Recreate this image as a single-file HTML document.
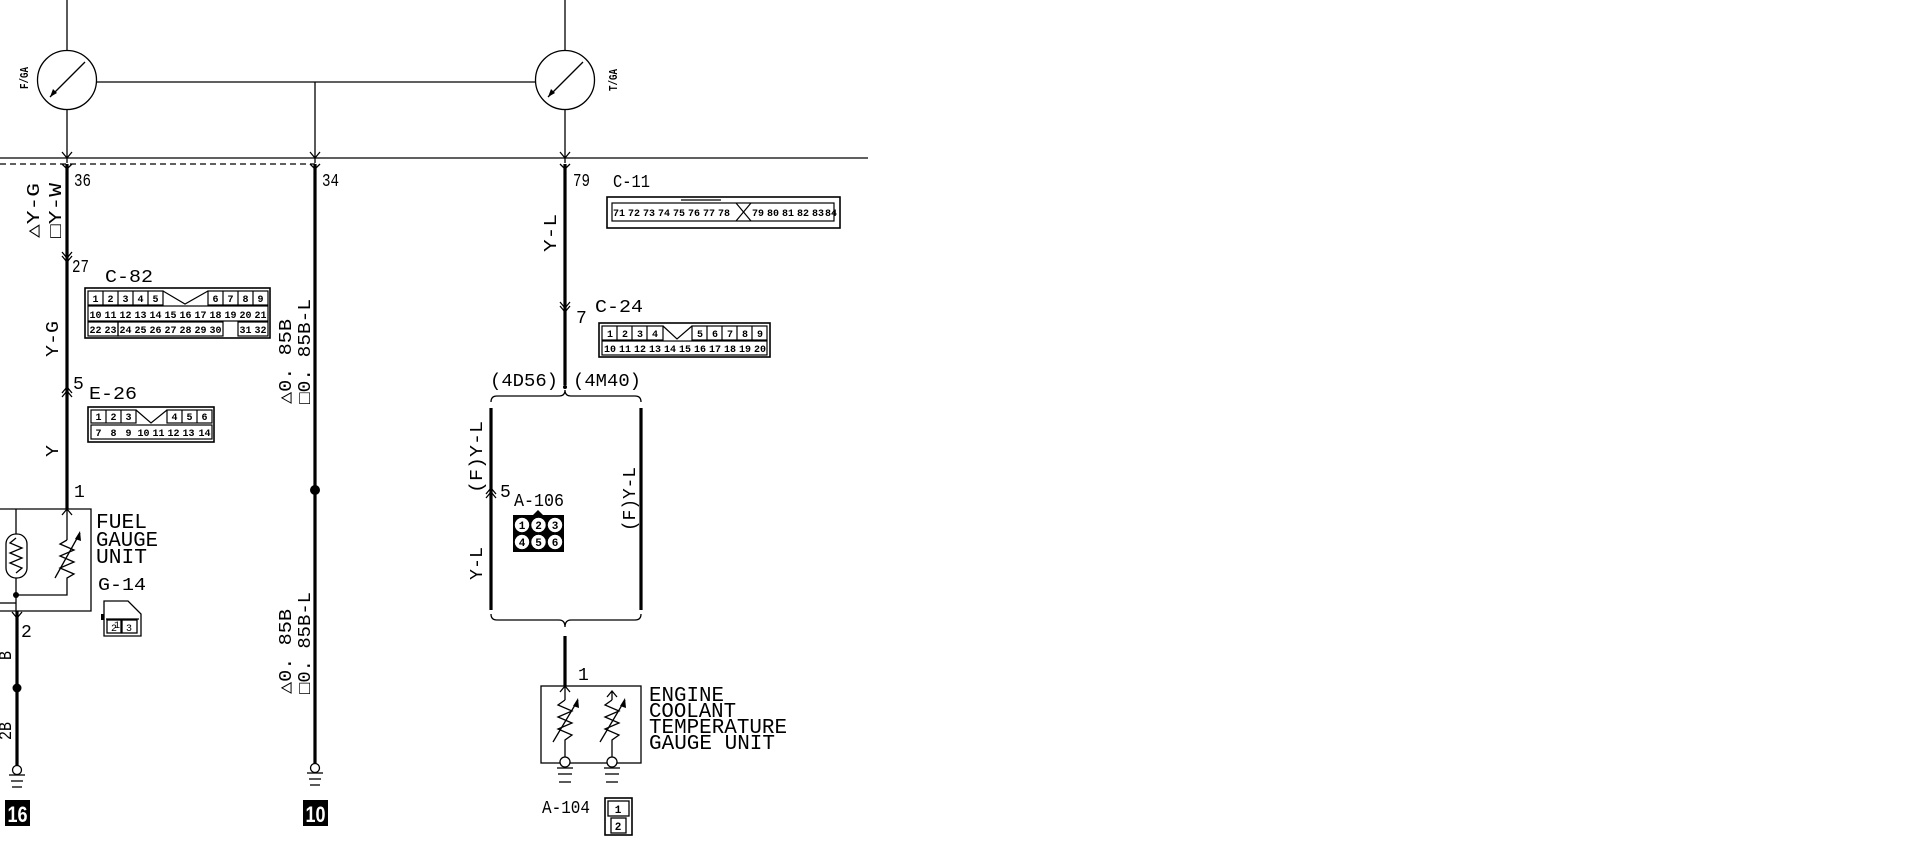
<!DOCTYPE html>
<html><head><meta charset="utf-8"><style>
html,body{margin:0;padding:0;background:#fff;}
svg{display:block;}
text{font-family:"Liberation Mono","DejaVu Sans Mono",monospace;fill:#000;}
.n{font-size:10px;text-anchor:middle;font-family:"Liberation Sans",sans-serif;font-weight:bold;}
.l{font-size:18px;}
.t{font-size:21px;}
</style></head><body>
<svg width="1919" height="868" viewBox="0 0 1919 868" xmlns="http://www.w3.org/2000/svg">
<g stroke="#000" fill="none" stroke-width="1.3">
<line x1="67" y1="0" x2="67" y2="50"/>
<line x1="565" y1="0" x2="565" y2="50"/>
<circle cx="67" cy="80" r="29.5"/>
<circle cx="565" cy="80" r="29.5"/>
<line x1="85" y1="62" x2="50" y2="97"/>
<line x1="583" y1="62" x2="548" y2="97"/>
<line x1="96" y1="82" x2="536" y2="82"/>
<line x1="67" y1="110" x2="67" y2="163"/>
<line x1="565" y1="110" x2="565" y2="163"/>
<line x1="315" y1="82" x2="315" y2="163"/>
<line x1="0" y1="158" x2="868" y2="158"/>
<line x1="0" y1="164" x2="315" y2="164" stroke-dasharray="6,4"/>
<polyline points="62,152 67,158 72,152"/>
<polyline points="310,152 315,158 320,152"/>
<polyline points="560,152 565,158 570,152"/>
<polyline points="62,164 67,169 72,164"/>
<polyline points="310,164 315,169 320,164"/>
<polyline points="560,164 565,169 570,164"/>
</g>
<polygon points="50,97 53,89 57,93" fill="#000"/>
<polygon points="548,97 551,89 555,93" fill="#000"/>
<g stroke="#000" fill="none" stroke-width="3.2">
<line x1="67" y1="164" x2="67" y2="509"/>
<line x1="315" y1="164" x2="315" y2="764"/>
<line x1="565" y1="164" x2="565" y2="385"/>
<line x1="491" y1="408" x2="491" y2="610"/>
<line x1="641" y1="408" x2="641" y2="610"/>
<line x1="565" y1="636" x2="565" y2="686"/>
<line x1="17" y1="611" x2="17" y2="766"/>
</g>
<g stroke="#000" fill="none" stroke-width="1.3">
<polyline points="62,252 67,258 72,252"/><polyline points="62,256 67,262 72,256"/>
<polyline points="62,393 67,387 72,393"/><polyline points="62,397 67,391 72,397"/>
<polyline points="560,302 565,308 570,302"/><polyline points="560,306 565,312 570,306"/>
<polyline points="486,494 491,488 496,494"/><polyline points="486,498 491,492 496,498"/>
<polyline points="62,515 67,509 72,515"/>
<polyline points="560,692 565,686 570,692"/>
<polyline points="12,612 17,618 22,612"/>
<path d="M491,402 Q491,396 497,396 L559,396 Q565,396 565,390 Q565,396 571,396 L635,396 Q641,396 641,402"/>
<path d="M491,614 Q491,620 497,620 L559,620 Q565,620 565,627 Q565,620 571,620 L635,620 Q641,620 641,614"/>
<polyline points="0,509 91,509 91,611 0,611"/>
<line x1="16" y1="509" x2="16" y2="534"/>
<line x1="16" y1="578" x2="16" y2="611"/>
<rect x="6" y="534" width="21" height="44" rx="10"/>
<polyline points="16,538 10,543 22,548 10,553 22,558 10,563 22,568 16,573"/>
<line x1="67" y1="509" x2="67" y2="540"/>
<polyline points="67,540 60,544 74,550 60,556 74,562 60,568 74,574 67,578 67,595 16,595"/>
<line x1="55" y1="578" x2="80" y2="533"/>
<line x1="0" y1="603" x2="16" y2="603"/>
<path d="M104,601 L128,601 L141,614 L141,636 L104,636 Z"/>
<line x1="106" y1="619" x2="139" y2="619"/><rect x="107" y="620" width="14" height="13"/><rect x="122" y="620" width="15" height="13"/>
<rect x="541" y="686" width="100" height="77"/>
<line x1="565" y1="686" x2="565" y2="700"/>
<polyline points="565,700 558,705 572,711 558,717 572,723 558,729 572,735 565,740 565,757"/>
<line x1="553" y1="742" x2="578" y2="700"/>
<line x1="612" y1="692" x2="612" y2="700"/><polyline points="607,697 612,691 617,697"/>
<polyline points="612,700 605,705 619,711 605,717 619,723 605,729 619,735 612,740 612,757"/>
<line x1="600" y1="742" x2="625" y2="700"/>
<circle cx="565" cy="762" r="5" fill="#fff"/>
<circle cx="612" cy="762" r="5" fill="#fff"/>
<line x1="557" y1="768" x2="573" y2="768"/><line x1="558" y1="774" x2="572" y2="774"/><line x1="559" y1="782" x2="571" y2="782"/>
<line x1="604" y1="768" x2="620" y2="768"/><line x1="605" y1="774" x2="619" y2="774"/><line x1="606" y1="782" x2="618" y2="782"/>
<circle cx="17" cy="770" r="4.5" fill="#fff"/>
<line x1="9" y1="775" x2="25" y2="775"/><line x1="11" y1="781" x2="23" y2="781"/><line x1="12" y1="787" x2="22" y2="787"/>
<circle cx="315" cy="768" r="4.5" fill="#fff"/>
<line x1="307" y1="773" x2="323" y2="773"/><line x1="309" y1="779" x2="321" y2="779"/><line x1="310" y1="785" x2="320" y2="785"/>
<rect x="605" y="798" width="27" height="37" stroke-width="1.6"/><rect x="608" y="801" width="21" height="15"/><rect x="611" y="818" width="15" height="15"/>
<rect x="85" y="288" width="185" height="50" stroke-width="1.6"/>
<rect x="88" y="407" width="126" height="35" stroke-width="1.6"/>
<rect x="607" y="197" width="233" height="31" stroke-width="1.6"/>
<rect x="599" y="323" width="171" height="34" stroke-width="1.6"/>
</g>
<polygon points="80,531 75,539 81,541" fill="#000"/>
<polygon points="578,698 573,706 579,708" fill="#000"/>
<polygon points="625,698 620,706 626,708" fill="#000"/>
<rect x="101" y="614" width="3" height="6" fill="#000"/>
<circle cx="17" cy="688" r="4.5"/>
<circle cx="315" cy="490" r="5"/>
<circle cx="16" cy="595" r="3"/>
<circle cx="565" cy="387" r="2"/>
<rect x="5" y="800" width="25" height="26" fill="#000"/><text x="17.5" y="822" style="font-family:'Liberation Sans';font-weight:bold;font-size:22px;fill:#fff;text-anchor:middle" textLength="20" lengthAdjust="spacingAndGlyphs">16</text>
<rect x="303" y="800" width="25" height="26" fill="#000"/><text x="315.5" y="822" style="font-family:'Liberation Sans';font-weight:bold;font-size:22px;fill:#fff;text-anchor:middle" textLength="20" lengthAdjust="spacingAndGlyphs">10</text>
<text x="28" y="89" transform="rotate(-90 28 89)" style="font-size:12px;font-weight:bold" textLength="22" lengthAdjust="spacingAndGlyphs">F/GA</text>
<text x="617" y="91" transform="rotate(-90 617 91)" style="font-size:12px;font-weight:bold" textLength="22" lengthAdjust="spacingAndGlyphs">T/GA</text>
<g class="l">
<text x="74" y="186" textLength="17" lengthAdjust="spacingAndGlyphs">36</text>
<text x="322" y="186" textLength="17" lengthAdjust="spacingAndGlyphs">34</text>
<text x="573" y="186" textLength="17" lengthAdjust="spacingAndGlyphs">79</text>
<text x="613" y="187" textLength="37" lengthAdjust="spacingAndGlyphs">C-11</text>
<text x="72" y="272" textLength="17" lengthAdjust="spacingAndGlyphs">27</text>
<text x="105" y="282" textLength="48" lengthAdjust="spacingAndGlyphs">C-82</text>
<text x="73" y="389" textLength="8">5</text>
<text x="89" y="399" textLength="48" lengthAdjust="spacingAndGlyphs">E-26</text>
<text x="74" y="497" textLength="8">1</text>
<text x="98" y="590" textLength="48" lengthAdjust="spacingAndGlyphs">G-14</text>
<text x="21" y="637" textLength="10">2</text>
<text x="576" y="323" textLength="9">7</text>
<text x="595" y="312" textLength="48" lengthAdjust="spacingAndGlyphs">C-24</text>
<text x="490" y="386" textLength="68" lengthAdjust="spacingAndGlyphs">(4D56)</text>
<text x="573" y="386" textLength="68" lengthAdjust="spacingAndGlyphs">(4M40)</text>
<text x="500" y="497" textLength="9">5</text>
<text x="514" y="506" textLength="50" lengthAdjust="spacingAndGlyphs">A-106</text>
<text x="578" y="680" textLength="8">1</text>
<text x="542" y="813" textLength="48" lengthAdjust="spacingAndGlyphs">A-104</text>
<text transform="translate(39,238) rotate(-90)" textLength="55" lengthAdjust="spacingAndGlyphs">△Y-G</text>
<text transform="translate(61,238) rotate(-90)" textLength="55" lengthAdjust="spacingAndGlyphs">□Y-W</text>
<text transform="translate(58,357) rotate(-90)" textLength="36" lengthAdjust="spacingAndGlyphs">Y-G</text>
<text transform="translate(58,457) rotate(-90)" textLength="12" lengthAdjust="spacingAndGlyphs">Y</text>
<text transform="translate(291,404) rotate(-90)" textLength="85" lengthAdjust="spacingAndGlyphs">△0. 85B</text>
<text transform="translate(310,404) rotate(-90)" textLength="105" lengthAdjust="spacingAndGlyphs">□0. 85B-L</text>
<text transform="translate(291,694) rotate(-90)" textLength="85" lengthAdjust="spacingAndGlyphs">△0. 85B</text>
<text transform="translate(310,694) rotate(-90)" textLength="102" lengthAdjust="spacingAndGlyphs">□0. 85B-L</text>
<text transform="translate(556,252) rotate(-90)" textLength="38" lengthAdjust="spacingAndGlyphs">Y-L</text>
<text transform="translate(482,493) rotate(-90)" textLength="72" lengthAdjust="spacingAndGlyphs">(F)Y-L</text>
<text transform="translate(482,580) rotate(-90)" textLength="33" lengthAdjust="spacingAndGlyphs">Y-L</text>
<text transform="translate(635,531) rotate(-90)" textLength="64" lengthAdjust="spacingAndGlyphs">(F)Y-L</text>
<text transform="translate(11,660) rotate(-90)" textLength="9" lengthAdjust="spacingAndGlyphs">B</text>
<text transform="translate(11,740) rotate(-90)" textLength="18" lengthAdjust="spacingAndGlyphs">2B</text>
</g>
<g class="t">
<text x="96" y="528" textLength="51" lengthAdjust="spacingAndGlyphs">FUEL</text>
<text x="96" y="546" textLength="62" lengthAdjust="spacingAndGlyphs">GAUGE</text>
<text x="96" y="563" textLength="51" lengthAdjust="spacingAndGlyphs">UNIT</text>
<text x="649" y="701" textLength="75" lengthAdjust="spacingAndGlyphs">ENGINE</text>
<text x="649" y="717" textLength="87" lengthAdjust="spacingAndGlyphs">COOLANT</text>
<text x="649" y="733" textLength="138" lengthAdjust="spacingAndGlyphs">TEMPERATURE</text>
<text x="649" y="749" textLength="126" lengthAdjust="spacingAndGlyphs">GAUGE UNIT</text>
</g>
<text x="117" y="628" style="font-size:10px;text-anchor:middle">1</text>
<text x="114" y="631" style="font-size:10px;text-anchor:middle">2</text>
<text x="129" y="631" style="font-size:10px;text-anchor:middle">3</text>
<text x="618" y="813" style="font-size:11px;text-anchor:middle;font-weight:bold">1</text>
<text x="618" y="830" style="font-size:11px;text-anchor:middle;font-weight:bold">2</text>
<g stroke="#000" fill="none" stroke-width="1.2">
<rect x="88" y="291" width="75" height="14"/><rect x="208" y="291" width="60" height="14"/>
<line x1="103" y1="291" x2="103" y2="305"/><line x1="118" y1="291" x2="118" y2="305"/><line x1="133" y1="291" x2="133" y2="305"/><line x1="148" y1="291" x2="148" y2="305"/>
<line x1="223" y1="291" x2="223" y2="305"/><line x1="238" y1="291" x2="238" y2="305"/><line x1="253" y1="291" x2="253" y2="305"/>
<polyline points="163,291 185,304 208,291"/>
<rect x="88" y="306" width="180" height="15"/>
<rect x="88" y="322" width="30" height="14"/><rect x="118" y="322" width="105" height="14"/><rect x="238" y="322" width="30" height="14"/>
</g>
<g class="n">
<text x="95.5" y="302">1</text><text x="110.5" y="302">2</text><text x="125.5" y="302">3</text><text x="140.5" y="302">4</text><text x="155.5" y="302">5</text>
<text x="215.5" y="302">6</text><text x="230.5" y="302">7</text><text x="245.5" y="302">8</text><text x="260.5" y="302">9</text>
<text x="95.5" y="318">10</text><text x="110.5" y="318">11</text><text x="125.5" y="318">12</text><text x="140.5" y="318">13</text><text x="155.5" y="318">14</text><text x="170.5" y="318">15</text><text x="185.5" y="318">16</text><text x="200.5" y="318">17</text><text x="215.5" y="318">18</text><text x="230.5" y="318">19</text><text x="245.5" y="318">20</text><text x="260.5" y="318">21</text>
<text x="95.5" y="333">22</text><text x="110.5" y="333">23</text><text x="125.5" y="333">24</text><text x="140.5" y="333">25</text><text x="155.5" y="333">26</text><text x="170.5" y="333">27</text><text x="185.5" y="333">28</text><text x="200.5" y="333">29</text><text x="215.5" y="333">30</text><text x="245.5" y="333">31</text><text x="260.5" y="333">32</text>
</g>
<g stroke="#000" fill="none" stroke-width="1.2">
<rect x="91" y="410" width="45" height="13"/><rect x="167" y="410" width="45" height="13"/>
<line x1="106" y1="410" x2="106" y2="423"/><line x1="121" y1="410" x2="121" y2="423"/><line x1="182" y1="410" x2="182" y2="423"/><line x1="197" y1="410" x2="197" y2="423"/>
<polyline points="136,410 151,423 167,410"/>
<rect x="91" y="425" width="121" height="14"/>
</g>
<g class="n">
<text x="98.5" y="420">1</text><text x="113.5" y="420">2</text><text x="128.5" y="420">3</text><text x="174.5" y="420">4</text><text x="189.5" y="420">5</text><text x="204.5" y="420">6</text>
<text x="98.5" y="436">7</text><text x="113.5" y="436">8</text><text x="128.5" y="436">9</text><text x="143.5" y="436">10</text><text x="158.5" y="436">11</text><text x="173.5" y="436">12</text><text x="188.5" y="436">13</text><text x="204.5" y="436">14</text>
</g>
<g stroke="#000" fill="none" stroke-width="1.2">
<rect x="612" y="203" width="222" height="18"/>
<line x1="681" y1="200" x2="721" y2="200"/>
<polyline points="736,203 751,221"/><polyline points="751,203 736,221"/>
</g>
<g class="n">
<text x="619" y="216">71</text><text x="634" y="216">72</text><text x="649" y="216">73</text><text x="664" y="216">74</text><text x="679" y="216">75</text><text x="694" y="216">76</text><text x="709" y="216">77</text><text x="724" y="216">78</text>
<text x="758" y="216">79</text><text x="773" y="216">80</text><text x="788" y="216">81</text><text x="803" y="216">82</text><text x="818" y="216">83</text><text x="831" y="216">84</text>
</g>
<g stroke="#000" fill="none" stroke-width="1.2">
<rect x="602" y="326" width="61" height="14"/><rect x="692" y="326" width="75" height="14"/>
<line x1="617" y1="326" x2="617" y2="340"/><line x1="632" y1="326" x2="632" y2="340"/><line x1="647" y1="326" x2="647" y2="340"/>
<line x1="707" y1="326" x2="707" y2="340"/><line x1="722" y1="326" x2="722" y2="340"/><line x1="737" y1="326" x2="737" y2="340"/><line x1="752" y1="326" x2="752" y2="340"/>
<polyline points="663,326 677,339 692,326"/>
<rect x="602" y="341" width="165" height="14"/>
</g>
<g class="n">
<text x="610" y="337">1</text><text x="625" y="337">2</text><text x="640" y="337">3</text><text x="655" y="337">4</text>
<text x="700" y="337">5</text><text x="715" y="337">6</text><text x="730" y="337">7</text><text x="745" y="337">8</text><text x="760" y="337">9</text>
<text x="610" y="352">10</text><text x="625" y="352">11</text><text x="640" y="352">12</text><text x="655" y="352">13</text><text x="670" y="352">14</text><text x="685" y="352">15</text><text x="700" y="352">16</text><text x="715" y="352">17</text><text x="730" y="352">18</text><text x="745" y="352">19</text><text x="760" y="352">20</text>
</g>
<rect x="513" y="515" width="51" height="37" fill="#000"/>
<polygon points="533,515 538,510 543,515" fill="#000"/>
<g fill="#fff" stroke="#fff" stroke-width="0.5">
<circle cx="522" cy="525" r="7"/><circle cx="538.5" cy="525" r="7"/><circle cx="555" cy="525" r="7"/>
<circle cx="522" cy="542" r="7"/><circle cx="538.5" cy="542" r="7"/><circle cx="555" cy="542" r="7"/>
</g>
<g class="n" style="font-size:11px">
<text x="522" y="529">1</text><text x="538.5" y="529">2</text><text x="555" y="529">3</text>
<text x="522" y="546">4</text><text x="538.5" y="546">5</text><text x="555" y="546">6</text>
</g>
</svg>
</body></html>
